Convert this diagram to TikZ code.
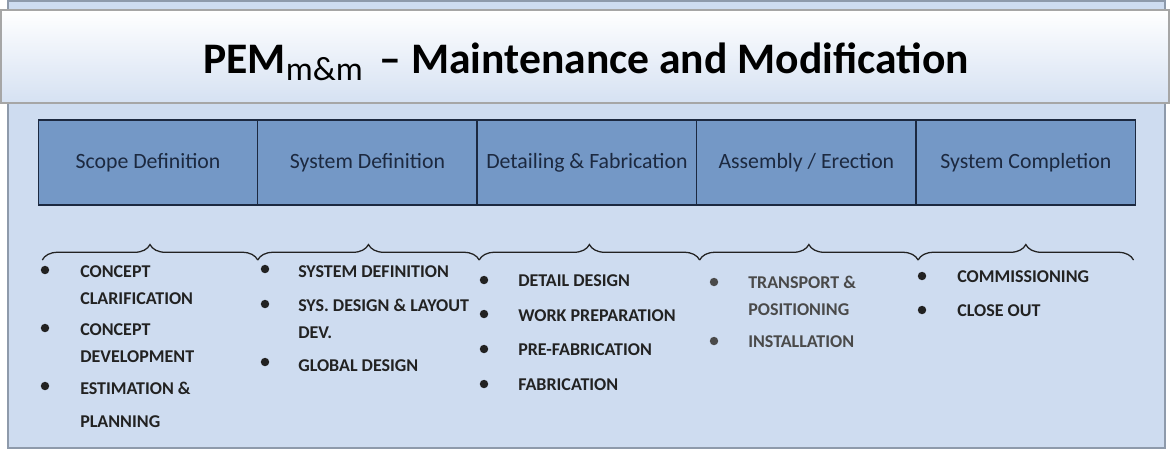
\documentclass[tikz,border=0pt]{standalone}
\usepackage{fontspec}
\setmainfont{Carlito}
\usetikzlibrary{positioning,calc,decorations.pathreplacing}
\definecolor{panelblue}{HTML}{CEDCF0}
\definecolor{phaseblue}{HTML}{7498C6}
\definecolor{navy}{HTML}{1C2940}
\definecolor{edgegray}{HTML}{8E9AAB}
\definecolor{itemgray}{HTML}{222222}
\definecolor{softgray}{HTML}{4A4A4A}
\tikzset{
  phase/.style={draw=navy, line width=1pt, fill=phaseblue, text=navy, outer sep=0pt,
    minimum width=5.485cm, minimum height=2.125cm, inner sep=0pt, font=\fontsize{15.5}{18}\selectfont},
  item/.style={anchor=base west, align=left, inner sep=0pt, text=itemgray,
    font=\bfseries\fontsize{12.8}{19.2}\selectfont},
  dot/.style={circle, fill=itemgray, inner sep=0pt, minimum size=6pt},
  curly/.style={decorate, decoration={brace, amplitude=11pt}, line width=0.9pt, draw=itemgray}
}

\begin{document}
\begin{tikzpicture}[x=0.025cm, y=-0.025cm]
 \useasboundingbox (0,0) rectangle (1170,450);
 % background panel and title bar
 \draw[fill=panelblue, draw=edgegray, line width=1pt] (8,1) rectangle (1165,448);
 \shade[top color=white, bottom color=panelblue!85, draw=gray!70, line width=0.8pt] (1,10) rectangle (1169,103);
 \node[anchor=base, inner sep=0pt] (title) at (586,73) {\bfseries\fontsize{31}{36}\selectfont
   PEM\raisebox{-5pt}{\mdseries\fontsize{24}{26}\selectfont m\&m}\kern5pt\ --\ Maintenance and Modification};

 % phases
 \node[phase] (s1) at (148,162.5) {Scope Definition};
 \node[phase, right=0pt of s1] (s2) {System Definition};
 \node[phase, right=0pt of s2] (s3) {Detailing \& Fabrication};
 \node[phase, right=0pt of s3] (s4) {Assembly / Erection};
 \node[phase, right=0pt of s4] (s5) {System Completion};

 % braces under each phase
 \draw[curly] ($(s1.south west)+(4,55)$) -- ($(s1.south east)+(0,55)$);
 \draw[curly] ($(s2.south west)+(0,55)$) -- ($(s2.south east)+(2,55)$);
 \draw[curly] ($(s3.south west)+(2,55)$) -- ($(s3.south east)+(3,55)$);
 \draw[curly] ($(s4.south west)+(3,55)$) -- ($(s4.south east)+(2,55)$);
 \draw[curly] ($(s5.south west)+(2,55)$) -- ($(s5.south east)+(-2,55)$);

 % scope definition
 \node[dot] (b1a) at (45,270) {};
 \node[item] (t1a) at (80,304) {CONCEPT\\CLARIFICATION};
 \node[dot] (b1b) at (45,328) {};
 \node[item] (t1b) at (80,362) {CONCEPT\\DEVELOPMENT};
 \node[dot] (b1c) at (45,386) {};
 \node[item] (t1c) at (80,427) {ESTIMATION \&\\[4pt]PLANNING};

 % system definition
 \node[dot] (b2a) at (265,269) {};
 \node[item] (t2a) at (298,277) {SYSTEM DEFINITION};
 \node[dot] (b2b) at (265,304) {};
 \node[item] (t2b) at (298,338) {SYS. DESIGN \& LAYOUT\\DEV.};
 \node[dot] (b2c) at (265,362) {};
 \node[item] (t2c) at (298,371) {GLOBAL DESIGN};

 % detailing & fabrication
 \node[dot] (b3a) at (484,280) {};
 \node[item] (t3a) at (518,286) {DETAIL DESIGN};
 \node[dot] (b3b) at (484,314) {};
 \node[item] (t3b) at (518,321) {WORK PREPARATION};
 \node[dot] (b3c) at (484,349) {};
 \node[item] (t3c) at (518,355) {PRE-FABRICATION};
 \node[dot] (b3d) at (484,384) {};
 \node[item] (t3d) at (518,390) {FABRICATION};

 % assembly / erection
 \node[dot, fill=softgray] (b4a) at (714,282) {};
 \node[item, text=softgray] (t4a) at (748,315) {TRANSPORT \&\\POSITIONING};
 \node[dot, fill=softgray] (b4b) at (714,341) {};
 \node[item, text=softgray] (t4b) at (748,347) {INSTALLATION};

 % system completion
 \node[dot] (b5a) at (922,276) {};
 \node[item] (t5a) at (957,282) {COMMISSIONING};
 \node[dot] (b5b) at (922,310) {};
 \node[item] (t5b) at (957,316) {CLOSE OUT};
\end{tikzpicture}
\end{document}
